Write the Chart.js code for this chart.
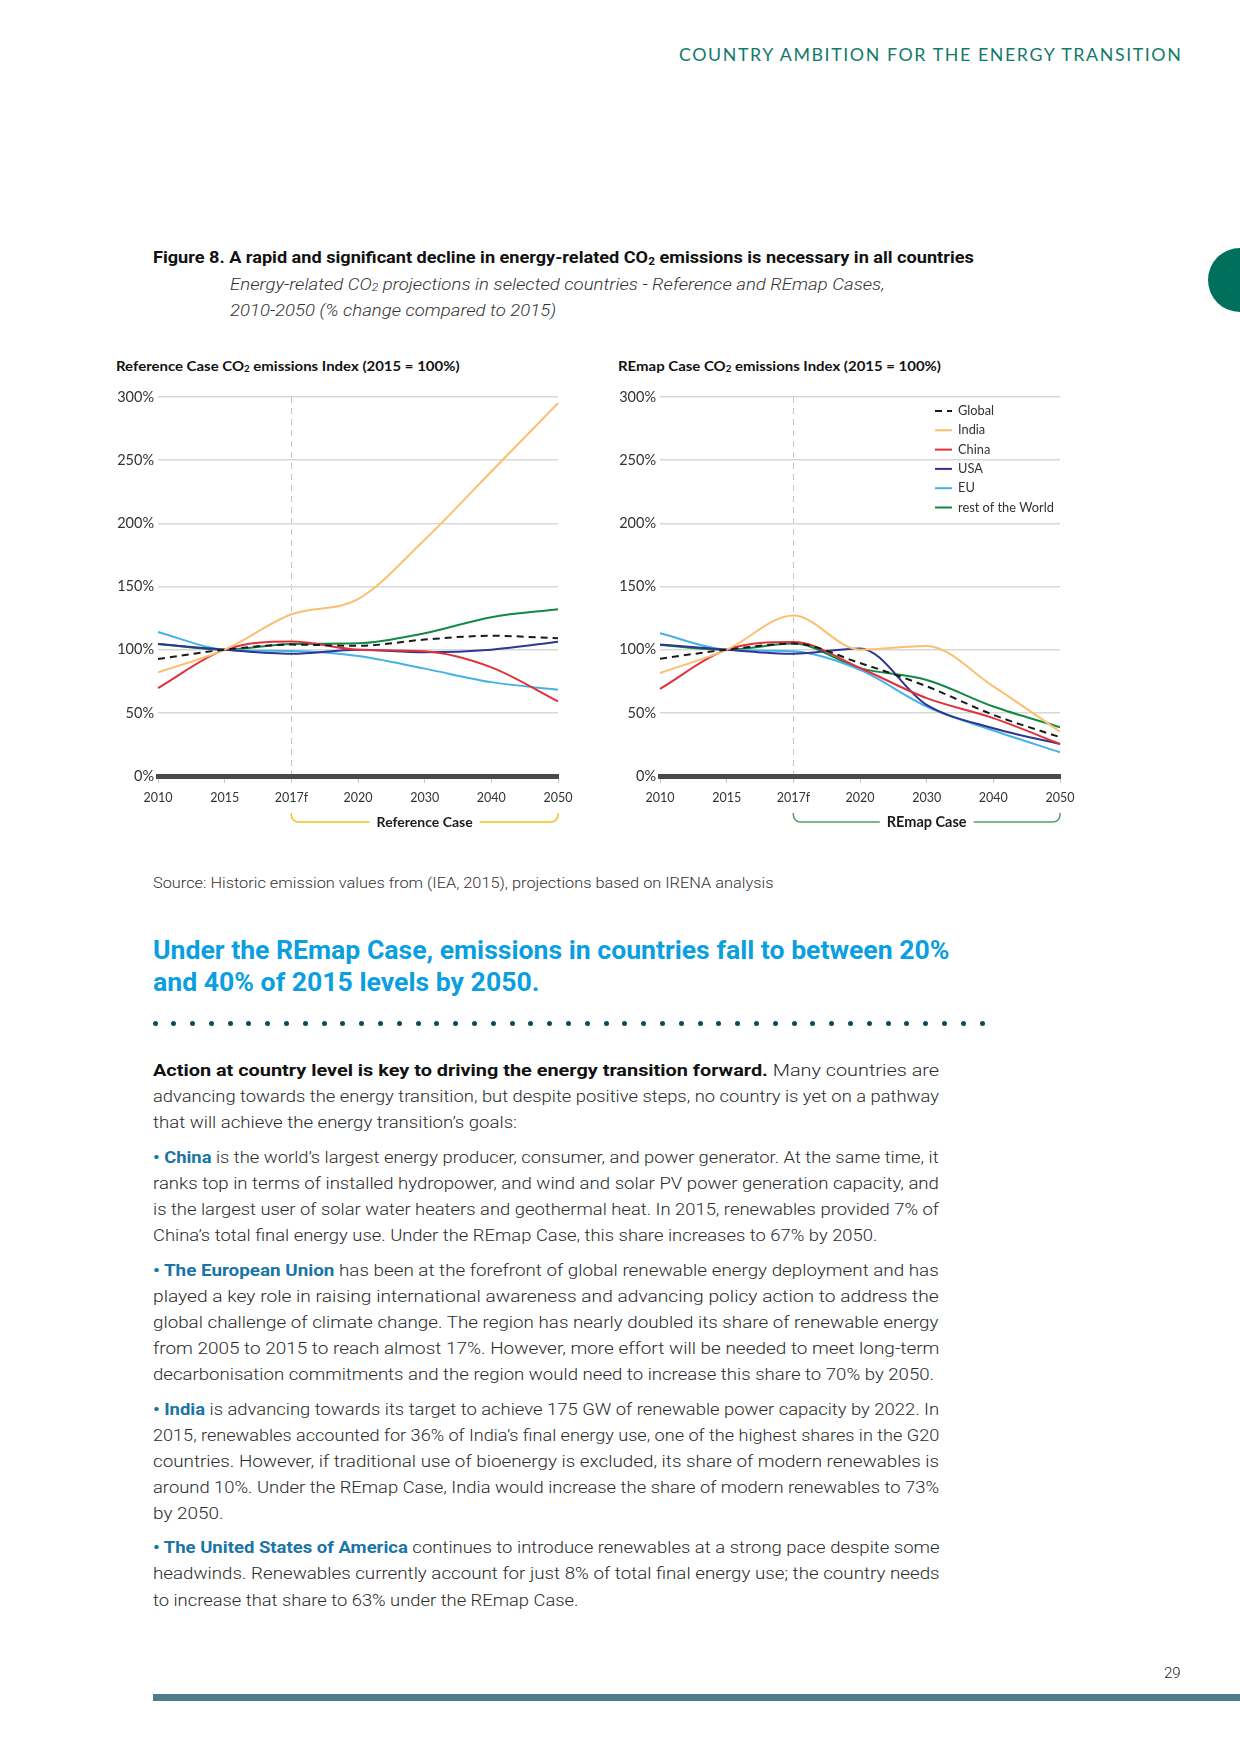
<!DOCTYPE html>
<html>
<head>
<meta charset="utf-8">
<script src="https://cdn.jsdelivr.net/npm/chart.js@4.4.1/dist/chart.umd.min.js"></script>
<style>
  html, body { margin: 0; padding: 0; background: #fff; }
  #page { position: relative; width: 1240px; height: 1754px; overflow: hidden; background: #fff; font-family: 'Roboto', sans-serif; color: #2b2b2b; }
  .t { position: absolute; white-space: nowrap; line-height: 1.25; margin-top: 2px; transform-origin: 0 50%; transform: translateY(-50%); }
  .body { font-size: 16.5px; font-weight: 300; color: #2b2b2b; }
  .body b { font-weight: 700; color: #111; }
  .body .nm { font-weight: 700; color: #1a75a6; }
  .chartTitle { font-family: 'Lato', sans-serif; font-weight: 700; font-size: 13px; color: #111; }
  .sub2 { font-size: 0.65em; vertical-align: -0.15em; }
  canvas { position: absolute; }
  .dot { position: absolute; width: 5px; height: 5px; border-radius: 50%; background: #0e4a5c; }
</style>
</head>
<body>
<div id="page">
  <div class="t" data-w="503" style="left:679px; top:53px; font-family:'Lato',sans-serif; font-weight:400; font-size:17px; letter-spacing:1.5px; color:#127a6b;">COUNTRY AMBITION FOR THE ENERGY TRANSITION</div>
  <div style="position:absolute; left:1208px; top:248px; width:64px; height:64px; border-radius:50%; background:#00705c;"></div>

  <div class="t" data-w="821" style="left:153px; top:256px; font-size:17px; font-weight:700; color:#111;">Figure 8. A rapid and significant decline in energy-related CO<span class="sub2">2</span> emissions is necessary in all countries</div>
  <div class="t" data-w="655" style="left:230px; top:283px; font-size:16.5px; font-weight:300; font-style:italic; color:#333;">Energy-related CO<span class="sub2">2</span> projections in selected countries - Reference and REmap Cases,</div>
  <div class="t" data-w="326" style="left:230px; top:309px; font-size:16.5px; font-weight:300; font-style:italic; color:#333;">2010-2050 (% change compared to 2015)</div>

  <div class="t chartTitle" data-w="344" style="left:116px; top:364px;">Reference Case CO<span class="sub2">2</span> emissions Index (2015 = 100%)</div>
  <div class="t chartTitle" data-w="323" style="left:618px; top:364px;">REmap Case CO<span class="sub2">2</span> emissions Index (2015 = 100%)</div>

  <canvas id="refChart" width="480" height="455" style="left:100px; top:380px;"></canvas>
  <canvas id="remapChart" width="480" height="455" style="left:602px; top:380px;"></canvas>

  <div class="t" data-w="621" style="left:153px; top:882px; font-size:14.5px; font-weight:300; color:#333;">Source: Historic emission values from (IEA, 2015), projections based on IRENA analysis</div>

  <div class="t" data-w="796" style="left:153px; top:948px; font-size:26px; font-weight:700; color:#0a9fe0;">Under the REmap Case, emissions in countries fall to between 20%</div>
  <div class="t" data-w="386" style="left:153px; top:980px; font-size:26px; font-weight:700; color:#0a9fe0;">and 40% of 2015 levels by 2050.</div>

  <div id="dots"></div>

  <div class="t body" data-w="786" style="left:153px; top:1069px;"><b>Action at country level is key to driving the energy transition forward.</b> Many countries are</div>
  <div class="t body" data-w="786" style="left:153px; top:1095px;">advancing towards the energy transition, but despite positive steps, no country is yet on a pathway</div>
  <div class="t body" data-w="364" style="left:153px; top:1121px;">that will achieve the energy transition’s goals:</div>

  <div class="t body" data-w="786" style="left:153px; top:1156px;"><span class="nm">• China</span> is the world’s largest energy producer, consumer, and power generator. At the same time, it</div>
  <div class="t body" data-w="786" style="left:153px; top:1182px;">ranks top in terms of installed hydropower, and wind and solar PV power generation capacity, and</div>
  <div class="t body" data-w="786" style="left:153px; top:1208px;">is the largest user of solar water heaters and geothermal heat. In 2015, renewables provided 7% of</div>
  <div class="t body" data-w="724" style="left:153px; top:1234px;">China’s total final energy use. Under the REmap Case, this share increases to 67% by 2050.</div>

  <div class="t body" data-w="786" style="left:153px; top:1269px;"><span class="nm">• The European Union</span> has been at the forefront of global renewable energy deployment and has</div>
  <div class="t body" data-w="786" style="left:153px; top:1295px;">played a key role in raising international awareness and advancing policy action to address the</div>
  <div class="t body" data-w="786" style="left:153px; top:1321px;">global challenge of climate change. The region has nearly doubled its share of renewable energy</div>
  <div class="t body" data-w="786" style="left:153px; top:1347px;">from 2005 to 2015 to reach almost 17%. However, more effort will be needed to meet long-term</div>
  <div class="t body" data-w="781" style="left:153px; top:1373px;">decarbonisation commitments and the region would need to increase this share to 70% by 2050.</div>

  <div class="t body" data-w="786" style="left:153px; top:1408px;"><span class="nm">• India</span> is advancing towards its target to achieve 175 GW of renewable power capacity by 2022. In</div>
  <div class="t body" data-w="786" style="left:153px; top:1434px;">2015, renewables accounted for 36% of India’s final energy use, one of the highest shares in the G20</div>
  <div class="t body" data-w="786" style="left:153px; top:1460px;">countries. However, if traditional use of bioenergy is excluded, its share of modern renewables is</div>
  <div class="t body" data-w="786" style="left:153px; top:1486px;">around 10%. Under the REmap Case, India would increase the share of modern renewables to 73%</div>
  <div class="t body" data-w="71" style="left:153px; top:1512px;">by 2050.</div>

  <div class="t body" data-w="786" style="left:153px; top:1546px;"><span class="nm">• The United States of America</span> continues to introduce renewables at a strong pace despite some</div>
  <div class="t body" data-w="786" style="left:153px; top:1572px;">headwinds. Renewables currently account for just 8% of total final energy use; the country needs</div>
  <div class="t body" data-w="425" style="left:153px; top:1599px;">to increase that share to 63% under the REmap Case.</div>

  <div class="t" style="left:1164px; top:1671px; font-size:15px; font-weight:300; color:#222;">29</div>
  <div style="position:absolute; left:153px; top:1694px; width:1087px; height:7px; background:#4d7d8c;"></div>
</div>

<script>
const years = ['2010', '2015', '2017f', '2020', '2030', '2040', '2050'];
const yTicks = [0, 50, 100, 150, 200, 250, 300];

// Reference Case, % of 2015
const refGlobal = [92.6, 100, 104, 103, 108, 111, 109];
const refIndia = [82, 100, 128, 140, 187, 241, 295];
const refChina = [69.6, 100, 106.5, 100, 98.7, 86, 59];
const refUSA = [104.5, 100, 96.8, 100, 98, 100, 106.3];
const refEU = [114, 100, 99, 95, 85, 74.3, 68.3];
const refWorld = [104.5, 100, 104.5, 105, 113, 125.7, 132];

// REmap Case, % of 2015
const remapGlobal = [92.9, 100, 104.8, 89.4, 71, 48.4, 30.7];
const remapIndia = [81.5, 100, 127, 100, 103, 71, 35];
const remapChina = [69, 100, 106, 85.5, 61.6, 45.8, 25.4];
const remapUSA = [104, 100, 96.8, 101, 56.3, 37.8, 25.4];
const remapEU = [113, 100, 98.7, 84, 55, 36, 18.8];
const remapWorld = [103.7, 100, 104.8, 85.4, 76, 55, 38.6];

const seriesNames = ['Global', 'India', 'China', 'USA', 'EU', 'rest of the World'];
const seriesColors = ['#1a1a1a', '#fbbf72', '#e0313a', '#2f3590', '#45b2e6', '#128a45'];

const tickFont = { family: "'Lato', sans-serif", size: 14.5 };
const xFont = { family: "'Lato', sans-serif", size: 12.5 };

// brackets under the x axis + legend inside the plot
const decorPlugin = {
    id: 'decor',
    afterDraw(chart, args, opts) {
        const { ctx, chartArea } = chart;
        const x = chart.scales.x;
        const x1 = x.getPixelForValue(2);
        const x2 = x.getPixelForValue(years.length - 1);
        const yTop = chartArea.bottom + 37;
        const yLine = chartArea.bottom + 46;
        const mid = (x1 + x2) / 2;
        const r = 7;

        ctx.save();
        ctx.font = "700 " + opts.size + "px 'Lato', sans-serif";
        const tw = ctx.measureText(opts.label).width;
        ctx.strokeStyle = opts.color;
        ctx.lineWidth = 1.5;
        ctx.beginPath();
        ctx.moveTo(x1, yTop);
        ctx.arcTo(x1, yLine, x1 + r, yLine, r);
        ctx.lineTo(mid - tw / 2 - 7, yLine);
        ctx.moveTo(mid + tw / 2 + 7, yLine);
        ctx.arcTo(x2, yLine, x2, yTop, r);
        ctx.lineTo(x2, yTop);
        ctx.stroke();
        ctx.fillStyle = '#1a1a1a';
        ctx.textAlign = 'center';
        ctx.textBaseline = 'middle';
        ctx.fillText(opts.label, mid, yLine);

        if (opts.legend) {
            const x0 = chartArea.right - 125;
            ctx.font = "12.8px 'Lato', sans-serif";
            ctx.textAlign = 'left';
            chart.data.datasets.forEach((ds, i) => {
                const y = chartArea.top + 14 + i * 19.3;
                ctx.strokeStyle = ds.borderColor;
                ctx.lineWidth = 2;
                ctx.setLineDash(ds.borderDash || []);
                ctx.beginPath();
                ctx.moveTo(x0, y);
                ctx.lineTo(x0 + 17, y);
                ctx.stroke();
                ctx.setLineDash([]);
                ctx.fillStyle = '#333';
                ctx.fillText(ds.label, x0 + 23, y);
            });
        }
        ctx.restore();
    },
};

function makeChart(id, values, opts) {
    return new Chart(document.getElementById(id), {
        type: 'line',
        data: {
            labels: years,
            datasets: values.map((v, i) => ({
                label: seriesNames[i],
                data: v,
                borderColor: seriesColors[i],
                borderWidth: 2,
                borderDash: i === 0 ? [7, 5] : [],
                pointRadius: 0,
                fill: false,
                cubicInterpolationMode: 'monotone',
            })),
        },
        options: {
            responsive: false,
            animation: false,
            layout: { padding: { top: 17, right: 22, bottom: 22, left: 0 } },
            plugins: {
                legend: { display: false },
                tooltip: { enabled: false },
                decor: opts,
            },
            scales: {
                x: {
                    offset: false,
                    afterFit: (s) => { s.height = 37; },
                    grid: {
                        drawOnChartArea: true,
                        color: (c) => (c.index === 2 ? '#c4c4c4' : 'rgba(0,0,0,0)'),
                        lineWidth: 1,
                        drawTicks: true,
                        tickLength: 7,
                        tickColor: '#c8c8c8',
                        tickWidth: 1,
                    },
                    border: { display: true, color: '#4a4a4a', width: 5, dash: [6, 5] },
                    ticks: { font: xFont, color: '#333', padding: 7, maxRotation: 0 },
                },
                y: {
                    min: 0,
                    max: 300,
                    afterFit: (s) => { s.width = 58; },
                    afterBuildTicks: (s) => { s.ticks = yTicks.map((v) => ({ value: v })); },
                    grid: {
                        color: (c) => (c.tick && c.tick.value === 0 ? 'rgba(0,0,0,0)' : '#d8d8d8'),
                        lineWidth: 1.5,
                        drawTicks: false,
                    },
                    border: { display: false },
                    ticks: {
                        font: tickFont,
                        color: '#333',
                        padding: 4,
                        callback: (v) => v + '%',
                    },
                },
            },
        },
        plugins: [decorPlugin],
    });
}

function fitTexts() {
    document.querySelectorAll('.t[data-w]').forEach((el) => {
        const w = parseFloat(el.dataset.w);
        const s = w / el.offsetWidth;
        el.style.transform = 'translateY(-50%) scaleX(' + s + ')';
    });
}

function buildDots() {
    const wrap = document.getElementById('dots');
    const n = 45;
    const x0 = 155, x1 = 982;
    for (let i = 0; i < n; i++) {
        const d = document.createElement('div');
        d.className = 'dot';
        d.style.left = (x0 + (x1 - x0) * i / (n - 1) - 2.5) + 'px';
        d.style.top = (1023 - 2.5) + 'px';
        wrap.appendChild(d);
    }
}

document.fonts.ready.then(() => {
    fitTexts();
    buildDots();
    makeChart('refChart', [refGlobal, refIndia, refChina, refUSA, refEU, refWorld],
        { label: 'Reference Case', color: '#f5c21b', size: 14, legend: false });
    makeChart('remapChart', [remapGlobal, remapIndia, remapChina, remapUSA, remapEU, remapWorld],
        { label: 'REmap Case', color: '#5e9b69', size: 14.5, legend: true });
});
</script>
</body>
</html>
